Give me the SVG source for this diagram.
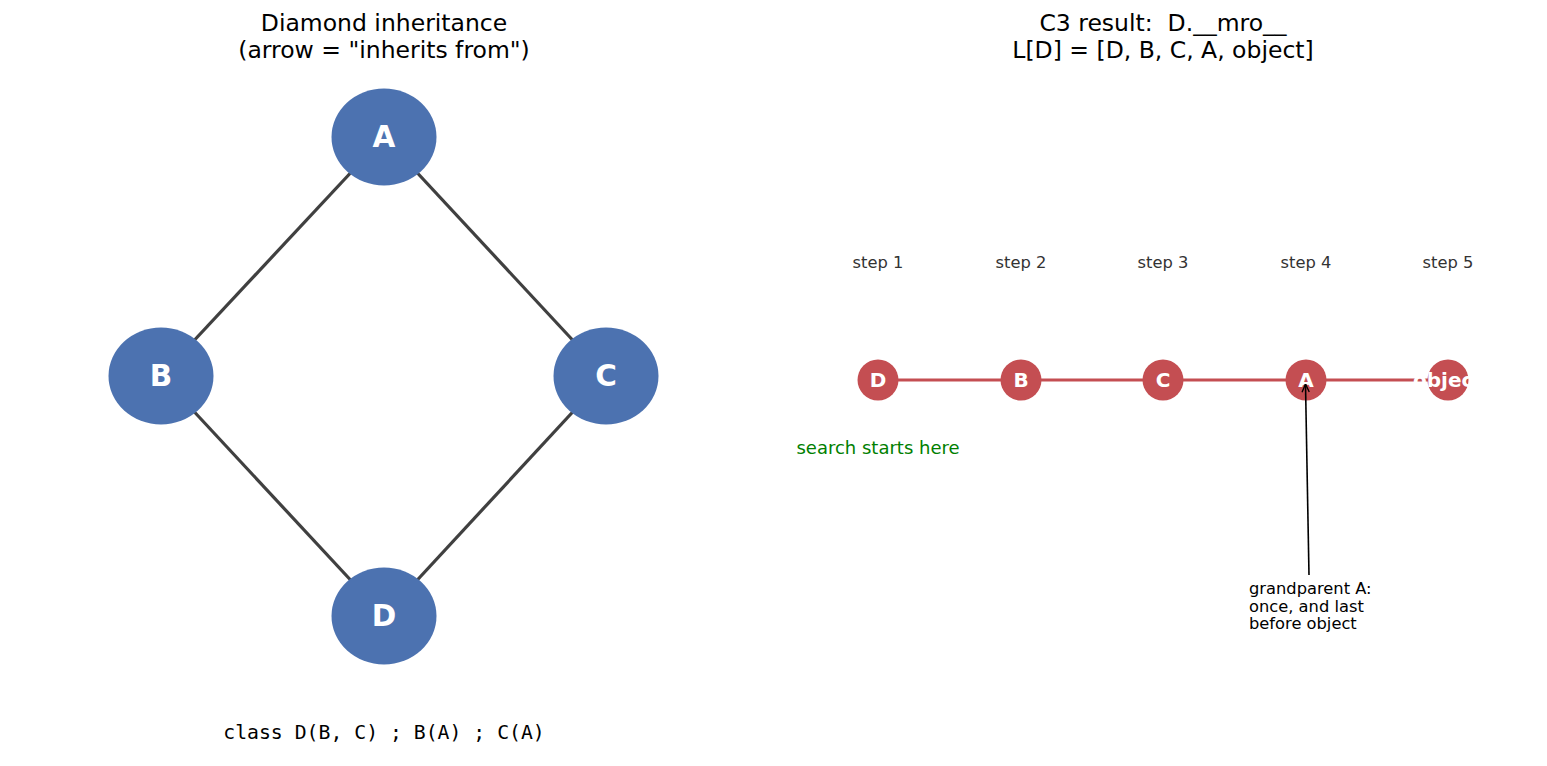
<svg xmlns="http://www.w3.org/2000/svg" width="1547" height="766" viewBox="0 0 1547 766">
<defs>
<style>
text{font-family:"DejaVu Sans",sans-serif;white-space:pre}
.title{font-size:23.5px;fill:#000;text-anchor:middle}
.big{fill:#4c72b0}
.bl{font-size:29.5px;font-weight:bold;fill:#fff;text-anchor:middle}
.edge{stroke:#404040;stroke-width:3.2;fill:none}
.red{fill:#c44e52}
.rl{font-size:20px;font-weight:bold;fill:#fff;text-anchor:middle}
.step{font-size:16.3px;fill:#333;text-anchor:middle}
.ann{font-size:16.3px;fill:#000}
</style>
<marker id="ah" viewBox="0 0 10 10" refX="10" refY="5" markerWidth="9" markerHeight="9" orient="auto" markerUnits="userSpaceOnUse"><path d="M1,1 L10,5 L1,9" fill="none" stroke="#000" stroke-width="1.5"/></marker>
</defs>
<rect width="1547" height="766" fill="#fff"/>
<text class="title" x="384" y="31">Diamond inheritance</text>
<text class="title" x="384" y="58">(arrow = "inherits from")</text>
<text class="title" x="1163" y="31" xml:space="preserve">C3 result:  D.__mro__</text>
<text class="title" x="1163" y="58">L[D] = [D, B, C, A, object]</text>
<g id="connectors">
<line class="edge" x1="384" y1="137" x2="161" y2="376"/>
<line class="edge" x1="384" y1="137" x2="606" y2="376"/>
<line class="edge" x1="161" y1="376" x2="384" y2="616"/>
<line class="edge" x1="606" y1="376" x2="384" y2="616"/>
<line x1="878" y1="380" x2="1448" y2="380" stroke="#c44e52" stroke-width="3.2"/>
</g>
<g id="node-A"><ellipse class="big" cx="384" cy="137" rx="52.5" ry="48.5"/><text class="bl" x="384" y="147">A</text></g>
<g id="node-B"><ellipse class="big" cx="161" cy="376" rx="52.5" ry="48.5"/><text class="bl" x="161" y="386">B</text></g>
<g id="node-C"><ellipse class="big" cx="606" cy="376" rx="52.5" ry="48.5"/><text class="bl" x="606" y="386">C</text></g>
<g id="node-D"><ellipse class="big" cx="384" cy="616" rx="52.5" ry="48.5"/><text class="bl" x="384" y="626">D</text></g>
<text x="384" y="739" font-size="19.8" text-anchor="middle" style="font-family:'DejaVu Sans Mono',monospace">class D(B, C) ; B(A) ; C(A)</text>
<text class="step" x="878" y="268">step 1</text>
<text class="step" x="1021" y="268">step 2</text>
<text class="step" x="1163" y="268">step 3</text>
<text class="step" x="1306" y="268">step 4</text>
<text class="step" x="1448" y="268">step 5</text>
<g id="mro-D"><circle class="red" cx="878" cy="380" r="20.5"/><text class="rl" x="878" y="387">D</text></g>
<g id="mro-B"><circle class="red" cx="1021" cy="380" r="20.5"/><text class="rl" x="1021" y="387">B</text></g>
<g id="mro-C"><circle class="red" cx="1163" cy="380" r="20.5"/><text class="rl" x="1163" y="387">C</text></g>
<g id="mro-A"><circle class="red" cx="1306" cy="380" r="20.5"/><text class="rl" x="1306" y="387">A</text></g>
<g id="mro-object"><circle class="red" cx="1448" cy="380" r="20.5"/><text class="rl" x="1448" y="387">object</text></g>
<text x="878" y="454" font-size="18" fill="#008000" text-anchor="middle">search starts here</text>
<g id="annotation">
<line x1="1309" y1="575" x2="1305.5" y2="384" stroke="#000" stroke-width="1.6" marker-end="url(#ah)"/>
<text class="ann" x="1249" y="594">grandparent A:</text>
<text class="ann" x="1249" y="612">once, and last</text>
<text class="ann" x="1249" y="629">before object</text>
</g>
</svg>
